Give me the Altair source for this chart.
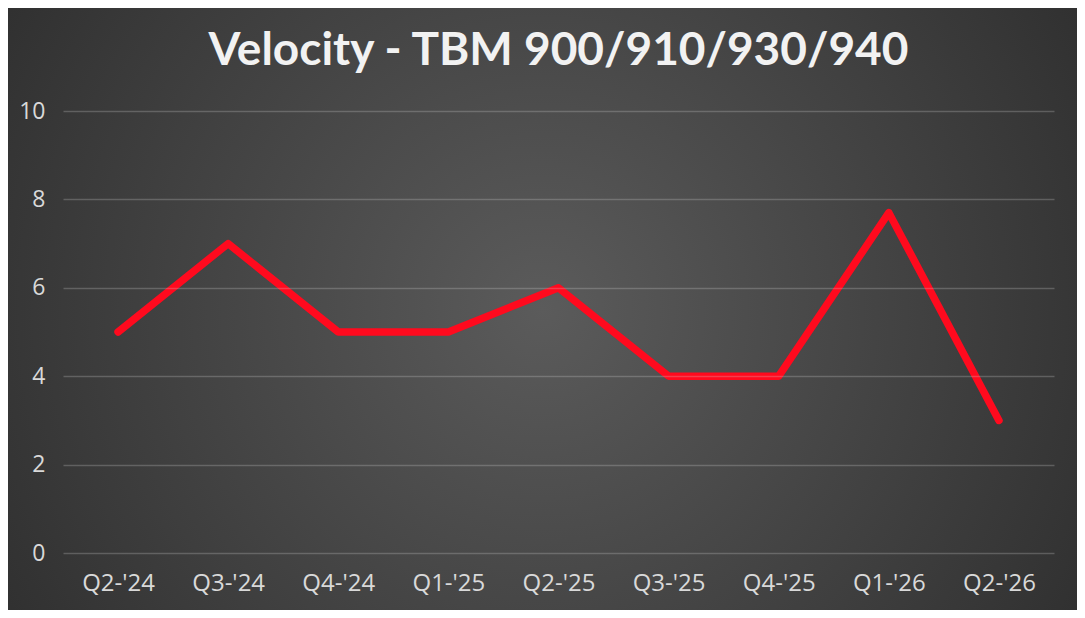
import pandas as pd
import altair as alt

# Quarter labels and velocity values
quarters = ["Q2-'24", "Q3-'24", "Q4-'24", "Q1-'25", "Q2-'25",
            "Q3-'25", "Q4-'25", "Q1-'26", "Q2-'26"]
velocity = [5, 7, 5, 5, 6, 4, 4, 7.7, 3]

W, H = 991, 442
PAD = {"left": 55, "top": 103, "right": 23, "bottom": 57}

d = pd.DataFrame({"quarter": quarters, "velocity": velocity})

# Dark radial backdrop, like the Excel chart style
bg_fill = alt.RadialGradient(
    gradient="radial",
    x1=0.5, y1=0.5, r1=0,
    x2=0.5, y2=0.5, r2=0.72,
    stops=[
        alt.GradientStop(offset=0, color="#5b5b5b"),
        alt.GradientStop(offset=1, color="#262626"),
    ],
)
backdrop = (
    alt.Chart(pd.DataFrame({"k": [0]}))
    .mark_rect(fill=bg_fill, clip=False)
    .encode(
        x=alt.value(-PAD["left"]), x2=alt.value(W + PAD["right"]),
        y=alt.value(-PAD["top"]), y2=alt.value(H + PAD["bottom"]),
    )
)

x = alt.X("quarter:N", sort=quarters, title=None,
          scale=alt.Scale(type="point", padding=0.5),
          axis=alt.Axis(labelAngle=0, labelPadding=18, ticks=False,
                        labelFontSize=24, domain=False, grid=False, zindex=1))
y = alt.Y("velocity:Q", title=None,
          scale=alt.Scale(domain=[0, 10], nice=False),
          axis=alt.Axis(values=[0, 2, 4, 6, 8, 10], labelPadding=18,
                        labelFontSize=23, ticks=False, domain=False,
                        grid=True, zindex=1))

line = (
    alt.Chart(d)
    .mark_line(color="#ff0a1e", strokeWidth=7.5, strokeJoin="round",
               strokeCap="round")
    .encode(x=x, y=y)
)

# the backdrop extends above the plot, so the title offset is pulled back
chart = (
    alt.layer(backdrop, line)
    .properties(
        width=W, height=H,
        autosize=alt.AutoSizeParams(type="none"),
        padding=PAD,
        background="#333333",
        title=alt.TitleParams(
            "Velocity - TBM 900/910/930/940",
            fontSize=46, font="Lato", fontWeight="bold", color="#f2f2f2",
            anchor="middle", offset=36 - PAD["top"], zindex=2,
        ),
    )
    .configure_view(stroke=None)
    .configure_axis(
        labelFont="Open Sans", labelColor="#d9d9d9",
        gridColor="#d9d9d9", gridOpacity=0.25, gridWidth=1.5,
    )
)

chart.save("out.html", embed_options={"renderer": "svg", "actions": False})
